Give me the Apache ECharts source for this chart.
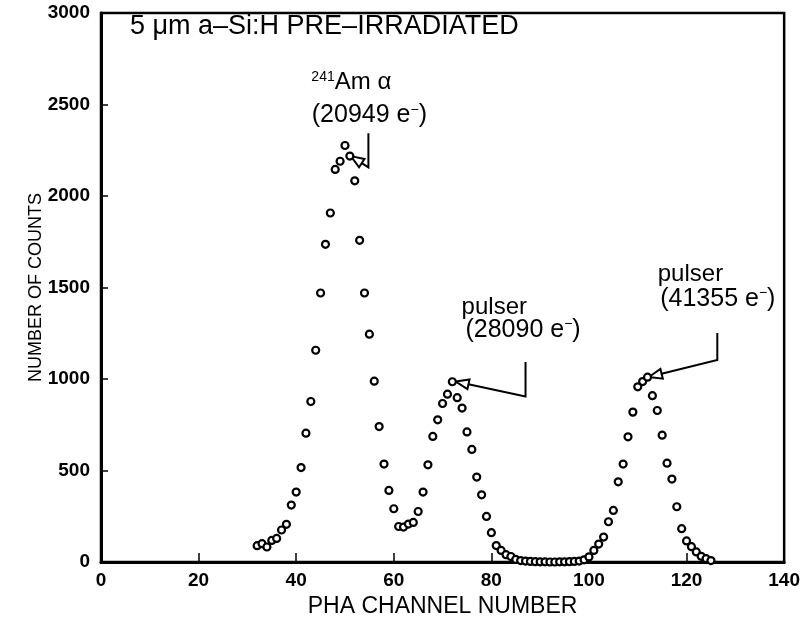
<!DOCTYPE html>
<html>
<head>
<meta charset="utf-8">
<script src="https://cdn.jsdelivr.net/npm/echarts@6/dist/echarts.min.js"></script>
<style>
html, body { margin: 0; padding: 0; background: #fff; }
#chart { width: 803px; height: 630px; }
</style>
</head>
<body>
<div id="chart"></div>
<script>
// PHA channel numbers
const channels = [
    32, 33, 34, 35, 36, 37, 38, 39, 40, 41, 42, 43, 44, 45, 46, 47, 48, 49, 50, 51,
    52, 53, 54, 55, 56, 57, 58, 59, 60, 61, 62, 63, 64, 65, 66, 67, 68, 69, 70, 71,
    72, 73, 74, 75, 76, 77, 78, 79, 80, 81, 82, 83, 84, 85, 86, 87, 88, 89, 90, 91,
    92, 93, 94, 95, 96, 97, 98, 99, 100, 101, 102, 103, 104, 105, 106, 107, 108, 109, 110, 111,
    112, 113, 114, 115, 116, 117, 118, 119, 120, 121, 122, 123, 124, 125
];
// number of counts per channel
const counts = [
    89, 100, 82, 118, 129, 175, 206, 311, 382, 516, 704, 877, 1157, 1470, 1736, 1907, 2145, 2190, 2276, 2218,
    2083, 1758, 1470, 1245, 988, 740, 535, 391, 291, 194, 191, 207, 216, 276, 382, 531, 686, 777, 866, 917,
    985, 898, 841, 711, 615, 464, 367, 249, 160, 90, 63, 40, 30, 14, 8, 5, 3, 2, 1, 1,
    0, 0, 1, 1, 2, 3, 5, 12, 28, 63, 98, 136, 220, 282, 438, 535, 684, 819, 957, 986,
    1010, 909, 828, 693, 540, 453, 302, 182, 115, 84, 55, 31, 18, 8
];

// annotation texts and where they sit (data coordinates)
const labelTexts = ['{s|241}Am \u03b1', '(20949 e{s|\u2212})', 'pulser', '(28090 e{s|\u2212})', 'pulser', '(41355 e{s|\u2212})'];
const labelAnchors = [[51.3, 2621], [55.0, 2441], [80.6, 1391], [86.5, 1268], [120.8, 1574], [126.4, 1437]];
// leader lines: start, corner, arrow tip
const leaderPaths = [
    [[54.8, 2343], [54.8, 2156], [51.2, 2218]],
    [[87.0, 1093], [87.0, 904], [72.7, 986]],
    [[126.3, 1252], [126.3, 1104], [112.3, 1011]]
];
const titleText = '5 \u03bcm a\u2013Si:H PRE\u2013IRRADIATED';

const FONT = '"Liberation Sans", Arial, sans-serif';

let chart;

function init() {
    chart = echarts.init(document.getElementById('chart'));

    const option = {
        animation: false,
        backgroundColor: '#fff',
        grid: {
            left: 101,
            right: 16,
            top: 13,
            bottom: 68,
            show: true,
            borderColor: '#000',
            borderWidth: 2.5
        },
        xAxis: {
            type: 'value',
            min: 0,
            max: 140,
            interval: 20,
            name: 'PHA CHANNEL NUMBER',
            nameLocation: 'middle',
            nameGap: 32,
            nameTextStyle: { color: '#000', fontSize: 23, fontFamily: FONT },
            axisLine: { lineStyle: { color: '#000', width: 3 } },
            axisTick: { inside: true, length: 9, lineStyle: { color: '#000', width: 1.5 } },
            axisLabel: { color: '#000', fontSize: 19, fontWeight: 'bold', fontFamily: FONT, margin: 9 },
            splitLine: { show: false }
        },
        yAxis: {
            type: 'value',
            min: 0,
            max: 3000,
            interval: 500,
            name: 'NUMBER OF COUNTS',
            nameLocation: 'middle',
            nameGap: 56,
            nameMoveOverlap: false,
            nameRotate: 90,
            nameTextStyle: { color: '#000', fontSize: 18, fontFamily: FONT },
            axisLine: { lineStyle: { color: '#000', width: 3 } },
            axisTick: { inside: true, length: 7, lineStyle: { color: '#000', width: 1.5 } },
            axisLabel: {
                color: '#000', fontSize: 19, fontWeight: 'bold', fontFamily: FONT, margin: 11,
                formatter: v => String(v)
            },
            splitLine: { show: false }
        },
        series: [
            {
                type: 'scatter',
                data: channels.map((c, i) => [c, counts[i]]),
                symbol: 'circle',
                symbolSize: 7,
                itemStyle: { color: '#fff', borderColor: '#000', borderWidth: 2.2, opacity: 1 }
            }
        ]
    };

    chart.setOption(option);
    drawAnnotations();
}

// 标注文字和箭头
function drawAnnotations() {
    const toPx = p => chart.convertToPixel({ gridIndex: 0 }, p);
    const graphics = [];

    graphics.push({
        type: 'text',
        left: 130,
        top: 13,
        style: { text: titleText, fill: '#000', font: '27px ' + FONT }
    });

    labelTexts.forEach((t, i) => {
        const p = toPx(labelAnchors[i]);
        graphics.push({
            type: 'text',
            x: p[0],
            y: p[1],
            style: {
                text: t,
                fill: '#000',
                font: (i % 2 === 1 ? '25px ' : '24px ') + FONT,
                align: 'center',
                verticalAlign: 'middle',
                rich: {
                    s: { fontSize: 14, fontFamily: FONT, verticalAlign: 'top', fill: '#000' }
                }
            }
        });
    });

    leaderPaths.forEach(path => {
        const a = toPx(path[0]);
        const b = toPx(path[1]);
        const tip = toPx(path[2]);
        const dx = tip[0] - b[0];
        const dy = tip[1] - b[1];
        const len = Math.sqrt(dx * dx + dy * dy);
        const ux = dx / len, uy = dy / len;
        const headLen = 13, headHalf = 5;
        const base = [tip[0] - ux * headLen, tip[1] - uy * headLen];
        const b1 = [base[0] - uy * headHalf, base[1] + ux * headHalf];
        const b2 = [base[0] + uy * headHalf, base[1] - ux * headHalf];
        graphics.push({
            type: 'polyline',
            shape: { points: [a, b, base] },
            style: { stroke: '#000', lineWidth: 2, fill: null }
        });
        graphics.push({
            type: 'polygon',
            shape: { points: [tip, b1, b2] },
            style: { stroke: '#000', lineWidth: 2, fill: '#fff' }
        });
    });

    chart.setOption({ graphic: graphics });
}

window.addEventListener('DOMContentLoaded', init);
</script>
</body>
</html>
